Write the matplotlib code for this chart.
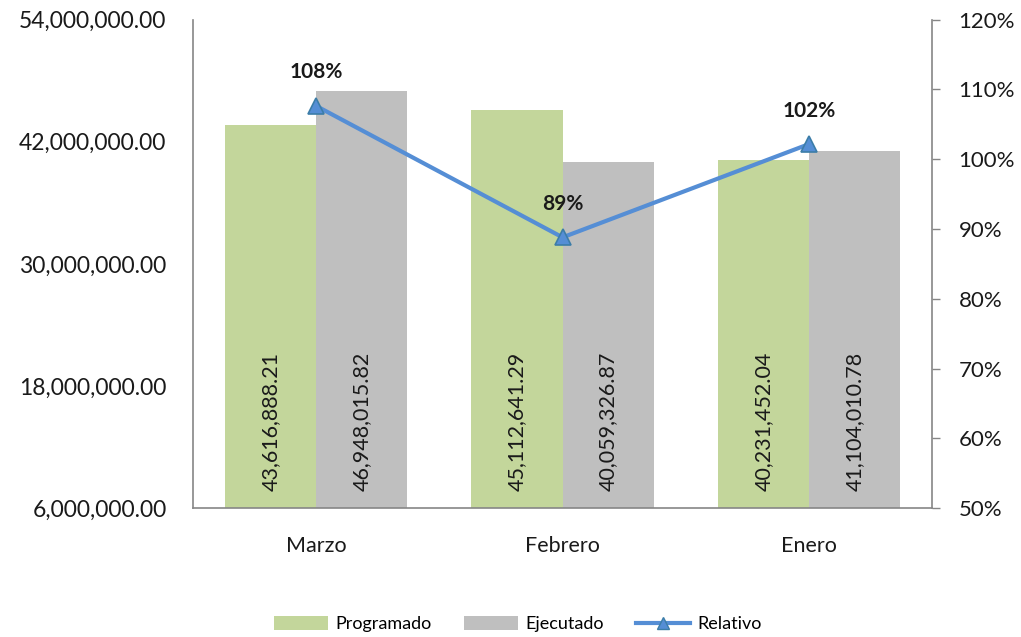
import matplotlib
matplotlib.use("Agg")
import matplotlib.pyplot as plt
import numpy as np
from matplotlib.lines import Line2D
from matplotlib.patches import Patch

categories = ["Marzo", "Febrero", "Enero"]
programado = [43616888.21, 45112641.29, 40231452.04]
ejecutado = [46948015.82, 40059326.87, 41104010.78]
relativo = [1.0764, 0.888, 1.0217]
relativo_labels = ["108%", "89%", "102%"]
left_ticks = [6000000, 18000000, 30000000, 42000000, 54000000]
right_ticks = [0.5, 0.6, 0.7, 0.8, 0.9, 1.0, 1.1, 1.2]

plt.rcParams['font.family'] = ['Lato', 'DejaVu Sans']

green = "#C3D69B"
gray = "#BFBFBF"
blue = "#558ED5"
axcol = "#868686"

fig = plt.figure(figsize=(10.21, 6.37), dpi=100)
ax = fig.add_axes([0.189, 0.2025, 0.724, 0.7665])
ax2 = ax.twinx()

x = np.arange(len(categories))
w = 0.37
ax.bar(x - w/2, [v - 6000000 for v in programado], w, bottom=6000000, color=green, zorder=2)
ax.bar(x + w/2, [v - 6000000 for v in ejecutado], w, bottom=6000000, color=gray, zorder=2)

for xi, v in zip(x - w/2, programado):
    ax.annotate(f"{v:,.2f}", (xi, 6000000), xytext=(0, 12), textcoords="offset points",
                rotation=90, ha="center", va="bottom", fontsize=15.5, color="#1a1a1a")
for xi, v in zip(x + w/2, ejecutado):
    ax.annotate(f"{v:,.2f}", (xi, 6000000), xytext=(0, 12), textcoords="offset points",
                rotation=90, ha="center", va="bottom", fontsize=15.5, color="#1a1a1a")

ax.set_ylim(6000000, 54000000)
ax.set_yticks(left_ticks)
ax.set_yticklabels([f"{t:,.2f}" for t in left_ticks])
ax.set_xlim(-0.5, 2.5)
ax.set_xticks(x)
ax.set_xticklabels(categories)
ax.tick_params(axis='y', length=0, pad=19, labelsize=16.5, labelcolor="#1a1a1a")
ax.tick_params(axis='x', length=0, pad=20, labelsize=15.5, labelcolor="#1a1a1a")

ax2.plot(x, relativo, color=blue, linewidth=3, marker="^", markersize=12,
         markerfacecolor=blue, markeredgecolor="#3C7DA8", markeredgewidth=1.2, zorder=5)
for xi, v, lab in zip(x, relativo, relativo_labels):
    ax2.annotate(lab, (xi, v), xytext=(0, 17), textcoords="offset points",
                 ha="center", va="bottom", fontsize=15, fontweight="bold", color="#1a1a1a")
ax2.set_ylim(0.5, 1.2)
ax2.set_yticks(right_ticks)
ax2.set_yticklabels([f"{int(round(t*100))}%" for t in right_ticks])
ax2.tick_params(axis='y', length=6, width=1, color=axcol, pad=13, labelsize=16, labelcolor="#1a1a1a")

for a in (ax, ax2):
    a.spines['top'].set_visible(False)
    for s in ('left', 'right', 'bottom'):
        a.spines[s].set_color(axcol)
        a.spines[s].set_linewidth(1.2)
ax.spines['right'].set_visible(False)
ax2.spines['left'].set_visible(False)
ax2.spines['bottom'].set_visible(False)

handles = [Patch(facecolor=green), Patch(facecolor=gray),
           Line2D([0], [0], color=blue, linewidth=3, marker="^", markersize=9,
                  markerfacecolor=blue, markeredgecolor="#3C7DA8")]
fig.legend(handles, ["Programado", "Ejecutado", "Relativo"], loc="center",
           bbox_to_anchor=(0.507, 0.02), ncol=3, frameon=False, fontsize=13,
           handlelength=3.0, handleheight=0.8, columnspacing=1.8, handletextpad=0.4)

fig.savefig("out.png", dpi=100)
